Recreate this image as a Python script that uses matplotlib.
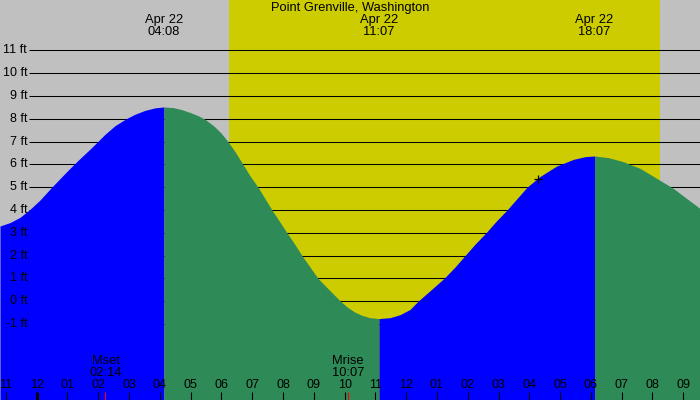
import matplotlib
matplotlib.use("Agg")
import matplotlib.pyplot as plt
import numpy as np

# tide height (ft), time in hours from midnight Apr 22
hours = [-1.192, -0.867, -0.542, -0.218, 0.107, 0.432, 0.757, 1.081, 1.406, 1.731,
         1.958, 2.218, 2.543, 2.900, 3.192, 3.517, 3.841, 4.133,
         4.437, 4.720, 4.979, 5.239, 5.466, 5.759, 5.986, 6.213, 6.441, 6.700,
         6.928, 7.188, 7.415, 7.642, 7.902, 8.130, 8.390, 8.617, 8.877, 9.137,
         9.397, 9.624, 9.884, 10.111, 10.338, 10.566, 10.825, 11.117,
         11.475, 11.800, 12.125, 12.385, 12.807, 13.228, 13.586, 13.910, 14.235, 14.592,
         14.917, 15.274, 15.599, 15.924, 16.346, 16.888, 17.428, 17.808, 18.117,
         18.555, 18.782, 19.052, 19.270, 19.594, 20.136, 20.675, 21.217, 21.543]
heights = [3.30, 3.45, 3.68, 4.03, 4.44, 4.92, 5.38, 5.83, 6.26, 6.67,
           6.97, 7.32, 7.70, 8.0, 8.2, 8.37, 8.48, 8.52,
           8.49, 8.40, 8.28, 8.14, 7.98, 7.68, 7.38, 7.0, 6.56, 6.0,
           5.5, 5.0, 4.5, 4.0, 3.47, 3.0, 2.48, 2.0, 1.5, 1.0,
           0.64, 0.33, -0.02, -0.28, -0.48, -0.62, -0.72, -0.76,
           -0.72, -0.59, -0.36, 0.0, 0.5, 1.0, 1.5, 2.0, 2.5, 3.0,
           3.5, 4.0, 4.5, 5.0, 5.47, 5.93, 6.22, 6.34, 6.37,
           6.30, 6.22, 6.12, 6.0, 5.83, 5.39, 4.95, 4.40, 4.07]

# high / low tide events
event_hours = [4.133, 11.117, 18.117]
event_labels = ["Apr 22\n04:08", "Apr 22\n11:07", "Apr 22\n18:07"]

# moon events
moon_hours = [2.233, 10.117]
moon_labels = ["Mset\n02:14", "Mrise\n10:07"]

sunrise = 6.26
sunset = 20.25

hour_ticks = list(range(-1, 22))
hour_labels = ["11", "12", "01", "02", "03", "04", "05", "06", "07", "08", "09",
               "10", "11", "12", "01", "02", "03", "04", "05", "06", "07", "08", "09"]

ft_levels = list(range(-1, 12))

now_hour = 16.28
now_height = 5.35

title = "Point Grenville, Washington"

plt.rcParams['font.family'] = ['Liberation Sans', 'DejaVu Sans']

fig = plt.figure(figsize=(7, 4), dpi=100)
ax = fig.add_axes([0, 0, 1, 1])
ax.set_facecolor("#C0C0C0")
ax.set_xlim(-1.192, 21.543)
ax.set_ylim(-4.33, 13.21)
ax.set_axis_off()
fig.patch.set_facecolor("#C0C0C0")

# daylight
ax.axvspan(sunrise, sunset, color="#CCCC00", zorder=0, lw=0)

# height lines
ax.hlines(ft_levels, -0.25, 21.6, colors="black", lw=0.75, zorder=1)

# tide fill: blue when rising, green when falling
t = np.array(hours)
h = np.array(heights)
bounds = [t[0]] + event_hours + [t[-1]]
colors = ["#0000FF", "#2E8B57", "#0000FF", "#2E8B57"]
for i in range(len(bounds) - 1):
    m = (t >= bounds[i] - 1e-6) & (t <= bounds[i + 1] + 1e-6)
    ax.fill_between(t[m], -5, h[m], color=colors[i], lw=0, zorder=2)

# ft labels
for lv in ft_levels:
    ax.text(-0.31, lv, f"{lv} ft", ha="right", va="center", fontsize=9, zorder=4)

xt = ax.get_xaxis_transform()

# title and tide event labels
ax.text(0.5, 0.98, title, transform=ax.transAxes, ha="center", va="center", fontsize=9.3, zorder=4)
for eh, lab in zip(event_hours, event_labels):
    ax.text(eh, 0.935, lab, transform=xt, ha="center", va="center",
            fontsize=9.3, linespacing=0.95, zorder=4)

# moon labels
for mh, lab in zip(moon_hours, moon_labels):
    ax.text(mh, 0.082, lab, transform=xt, ha="center", va="center",
            fontsize=9.3, linespacing=0.95, zorder=4)
ax.vlines(moon_hours, 0, 0.021, transform=xt, colors="red", lw=0.8, zorder=4)

# hour ticks
for hr, lab in zip(hour_ticks, hour_labels):
    ax.text(hr, 0.038, lab, transform=xt, ha="center", va="center", fontsize=9, zorder=4)
    ax.vlines(hr, 0, 0.021, transform=xt, colors="black",
              lw=2.2 if hr == 0 else 0.8, zorder=4)

# current time marker
ax.plot([now_hour], [now_height], marker="+", color="black", markersize=6,
        markeredgewidth=0.9, zorder=4)

fig.savefig("out.png", dpi=100, facecolor=fig.get_facecolor())
